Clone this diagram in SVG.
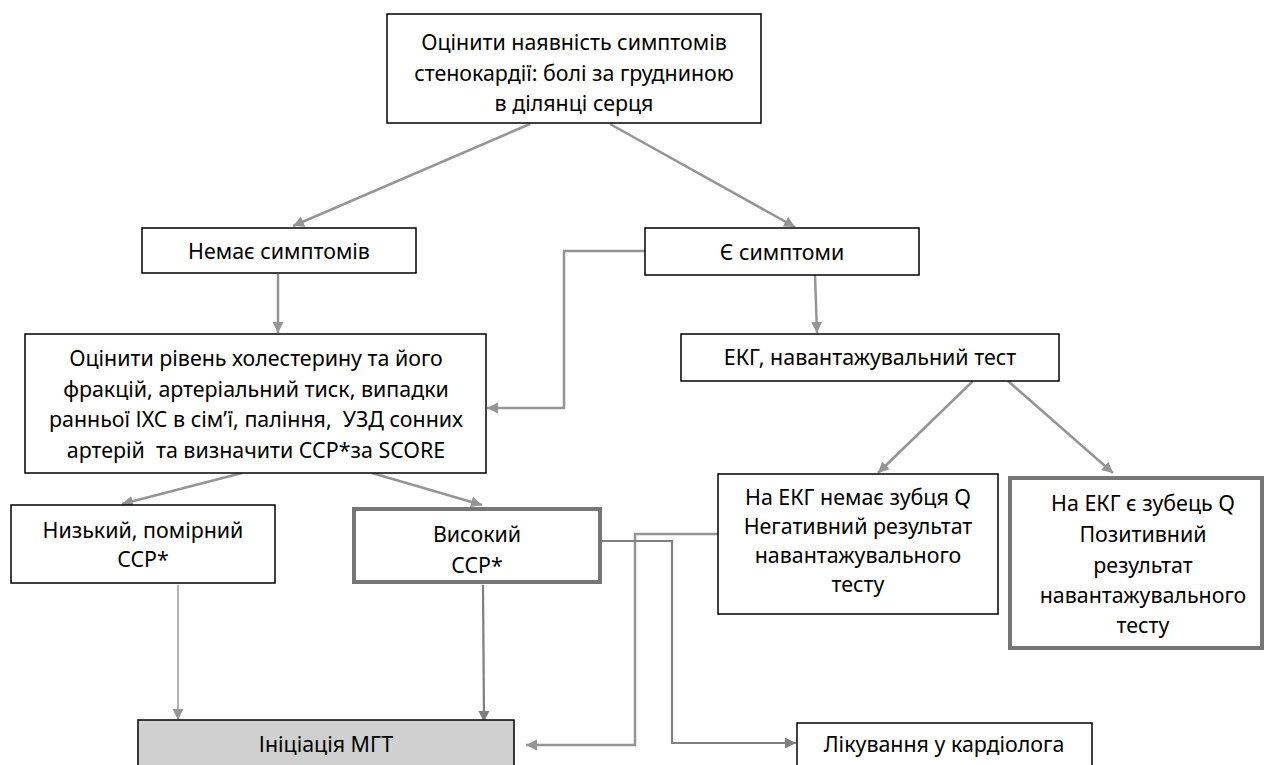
<svg xmlns="http://www.w3.org/2000/svg" width="1266" height="765" viewBox="0 0 1266 765">
<style>
.box{fill:#fff;stroke:#000;stroke-width:1.5}
.thick{fill:#fff;stroke:#767676;stroke-width:4}
.grey{fill:#d0d0d0;stroke:#000;stroke-width:1.5}
text{font-family:"Noto Sans","Open Sans","Liberation Sans",sans-serif;font-size:21.4px;fill:#000;text-anchor:middle;white-space:pre}
.c{fill:none;stroke:#959595;stroke-width:2.5}
.cl{fill:none;stroke:#a0a0a0;stroke-width:1.6}
.cd{fill:none;stroke:#7f7f7f;stroke-width:2.2}
</style>
<defs>
<marker id="a" viewBox="0 0 10 10" refX="10" refY="5" markerWidth="11" markerHeight="12" markerUnits="userSpaceOnUse" orient="auto"><path d="M0,0 L10,5 L0,10 z" fill="#959595"/></marker>
<marker id="ad" viewBox="0 0 10 10" refX="10" refY="5" markerWidth="11" markerHeight="12" markerUnits="userSpaceOnUse" orient="auto"><path d="M0,0 L10,5 L0,10 z" fill="#7f7f7f"/></marker>
</defs>
<g id="connectors">
<line class="c" x1="530" y1="124" x2="293" y2="226" marker-end="url(#a)"/>
<line class="c" x1="610" y1="124" x2="795" y2="227" marker-end="url(#a)"/>
<line class="c" x1="278" y1="274" x2="278" y2="333" marker-end="url(#a)"/>
<polyline class="c" points="645,251 564,251 564,408 487,408" marker-end="url(#a)"/>
<line class="c" x1="815" y1="275" x2="817" y2="333" marker-end="url(#a)"/>
<line class="c" x1="973" y1="381" x2="878" y2="473" marker-end="url(#a)"/>
<line class="c" x1="1008" y1="381" x2="1113" y2="473" marker-end="url(#a)"/>
<line class="c" x1="242" y1="473" x2="122" y2="504" marker-end="url(#a)"/>
<line class="c" x1="372" y1="473" x2="482" y2="505" marker-end="url(#a)"/>
<line class="cl" x1="178" y1="585" x2="178" y2="720" marker-end="url(#a)"/>
<line class="cd" x1="483" y1="585" x2="484" y2="722" marker-end="url(#ad)"/>
<polyline class="c" points="718,534 635,534 635,745 526,745" marker-end="url(#a)"/>
<polyline class="cd" points="602,541 672,541 672,743 796,743" marker-end="url(#ad)"/>
</g>
<g id="top"><rect class="box" x="387" y="14" width="374" height="109"/>
<text x="574" y="50">Оцінити наявність симптомів</text>
<text x="574" y="81">стенокардії: болі за грудниною</text>
<text x="574" y="111">в ділянці серця</text></g>
<g id="no-symptoms"><rect class="box" x="142" y="228" width="274" height="45"/>
<text x="279" y="259">Немає симптомів</text></g>
<g id="symptoms"><rect class="box" x="645" y="228" width="274" height="47"/>
<text x="782" y="260">Є симптоми</text></g>
<g id="assess"><rect class="box" x="25" y="334" width="461" height="139"/>
<text x="256" y="366">Оцінити рівень холестерину та його</text>
<text x="256" y="397">фракцій, артеріальний тиск, випадки</text>
<text x="256" y="427">ранньої ІХС в сім’ї, паління,  УЗД сонних</text>
<text x="256" y="458">артерій  та визначити ССР*за SCORE</text></g>
<g id="ecg"><rect class="box" x="681" y="334" width="378" height="47"/>
<text x="870" y="365">ЕКГ, навантажувальний тест</text></g>
<g id="low"><rect class="box" x="11" y="505" width="264" height="78"/>
<text x="143" y="538">Низький, помірний</text>
<text x="143" y="567">ССР*</text></g>
<g id="high"><rect class="thick" x="354" y="509" width="246" height="73"/>
<text x="477" y="542">Високий</text>
<text x="477" y="573">ССР*</text></g>
<g id="negative"><rect class="box" x="718" y="474" width="280" height="140"/>
<text x="858" y="505">На ЕКГ немає зубця Q</text>
<text x="858" y="534">Негативний результат</text>
<text x="858" y="563">навантажувального</text>
<text x="858" y="592">тесту</text></g>
<g id="positive"><rect class="thick" x="1010" y="478" width="252" height="170"/>
<text x="1143" y="511">На ЕКГ є зубець Q</text>
<text x="1143" y="542">Позитивний</text>
<text x="1143" y="573">результат</text>
<text x="1143" y="603">навантажувального</text>
<text x="1143" y="633">тесту</text></g>
<g id="init"><rect class="grey" x="138" y="720" width="376" height="55"/>
<text x="326" y="752">Ініціація МГТ</text></g>
<g id="cardio"><rect class="box" x="797" y="723" width="295" height="52"/>
<text x="944" y="752">Лікування у кардіолога</text></g>
</svg>
